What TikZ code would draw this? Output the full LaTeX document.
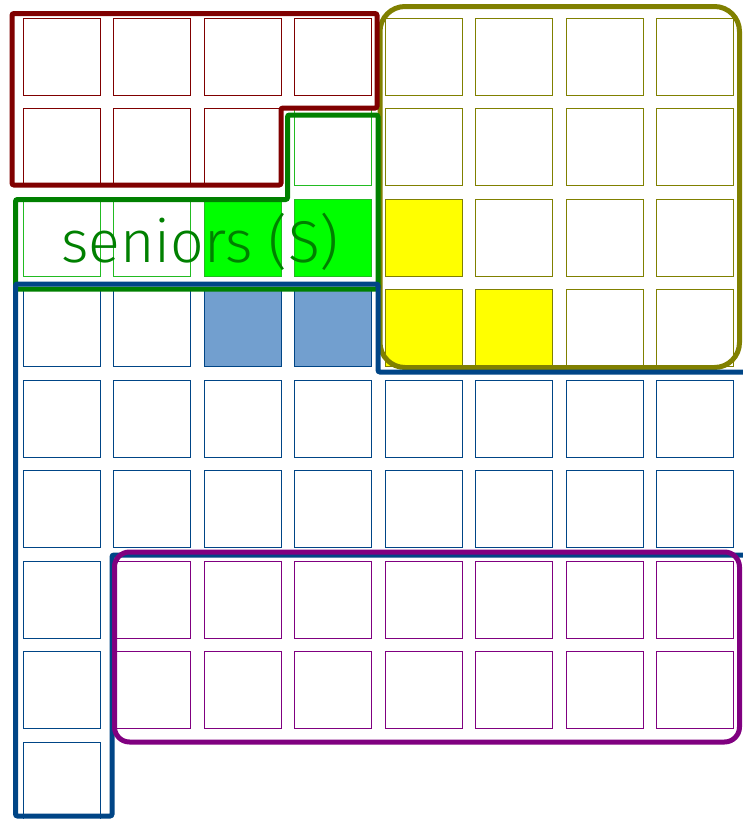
\documentclass[tikz,border=0pt]{standalone}
\usepackage{fontspec}
\newfontfamily\seniorsfont{Fira Sans Light}
\definecolor{groupred}{HTML}{800000}
\definecolor{groupgreen}{HTML}{008000}
\definecolor{cellgreen}{HTML}{22BB22}
\definecolor{fillgreen}{HTML}{00FF00}
\definecolor{groupolive}{HTML}{808000}
\definecolor{fillyellow}{HTML}{FFFF00}
\definecolor{groupblue}{HTML}{004586}
\definecolor{fillblue}{HTML}{729FCF}
\definecolor{grouppurple}{HTML}{800080}

\begin{document}
\begin{tikzpicture}[
  x=1pt, y=-1pt,
  cell/.style={draw, line width=1pt, minimum size=77pt, inner sep=0pt},
  group/.style={line width=5pt, rounded corners=2pt},
  roundgroup/.style={line width=5pt, rounded corners=#1},
]
  \useasboundingbox (0,0) rectangle (742,819);

  % cells, one group at a time
  \foreach \r/\c in {0/0,0/1,0/2,0/3,1/0,1/1,1/2}
    \node[cell, draw=groupred] (sq-\r-\c) at ({61.5+90.57*\c},{56.5+90.5*\r}) {};
  \foreach \r/\c in {1/3,2/0,2/1}
    \node[cell, draw=cellgreen] (sq-\r-\c) at ({61.5+90.57*\c},{56.5+90.5*\r}) {};
  \foreach \r/\c in {2/2,2/3}
    \node[cell, draw=cellgreen, fill=fillgreen] (sq-\r-\c) at ({61.5+90.57*\c},{56.5+90.5*\r}) {};
  \foreach \r in {0,...,3}
    \foreach \c in {4,...,7}
      \node[cell, draw=groupolive] (sq-\r-\c) at ({61.5+90.57*\c},{56.5+90.5*\r}) {};
  \foreach \r/\c in {2/4,3/4,3/5}
    \node[cell, draw=groupolive, fill=fillyellow] (sq-\r-\c) at ({61.5+90.57*\c},{56.5+90.5*\r}) {};
  \foreach \r/\c in {3/0,3/1,6/0,7/0,8/0}
    \node[cell, draw=groupblue] (sq-\r-\c) at ({61.5+90.57*\c},{56.5+90.5*\r}) {};
  \foreach \r/\c in {3/2,3/3}
    \node[cell, draw=groupblue, fill=fillblue] (sq-\r-\c) at ({61.5+90.57*\c},{56.5+90.5*\r}) {};
  \foreach \r in {4,5}
    \foreach \c in {0,...,7}
      \node[cell, draw=groupblue] (sq-\r-\c) at ({61.5+90.57*\c},{56.5+90.5*\r}) {};
  \foreach \r in {6,7}
    \foreach \c in {1,...,7}
      \node[cell, draw=grouppurple] (sq-\r-\c) at ({61.5+90.57*\c},{56.5+90.5*\r}) {};

  % group outlines
  \draw[roundgroup=25pt, draw=groupolive] (380,6.5) rectangle (739.5,367.5);
  \draw[group, draw=groupred] (12,13.5) -- (377,13.5) -- (377,108) -- (281,108)
    -- (281,185) -- (12,185) -- cycle;
  \draw[group, draw=groupgreen] (15.5,199.5) -- (287.5,199.5) -- (287.5,115)
    -- (378,115) -- (378,289) -- (15.5,289) -- cycle;
  \draw[group, draw=groupblue] (760,372) -- (378,372) -- (378,284) -- (15.5,284)
    -- (15.5,816) -- (112,816) -- (112,555) -- (760,555);
  \draw[roundgroup=15pt, draw=grouppurple] (114.5,552) rectangle (739.5,742);

  \node[text=groupgreen, font=\seniorsfont\fontsize{59}{59}\selectfont, inner sep=0pt]
    (seniors) at (200,242) {seniors (S)};
\end{tikzpicture}
\end{document}
